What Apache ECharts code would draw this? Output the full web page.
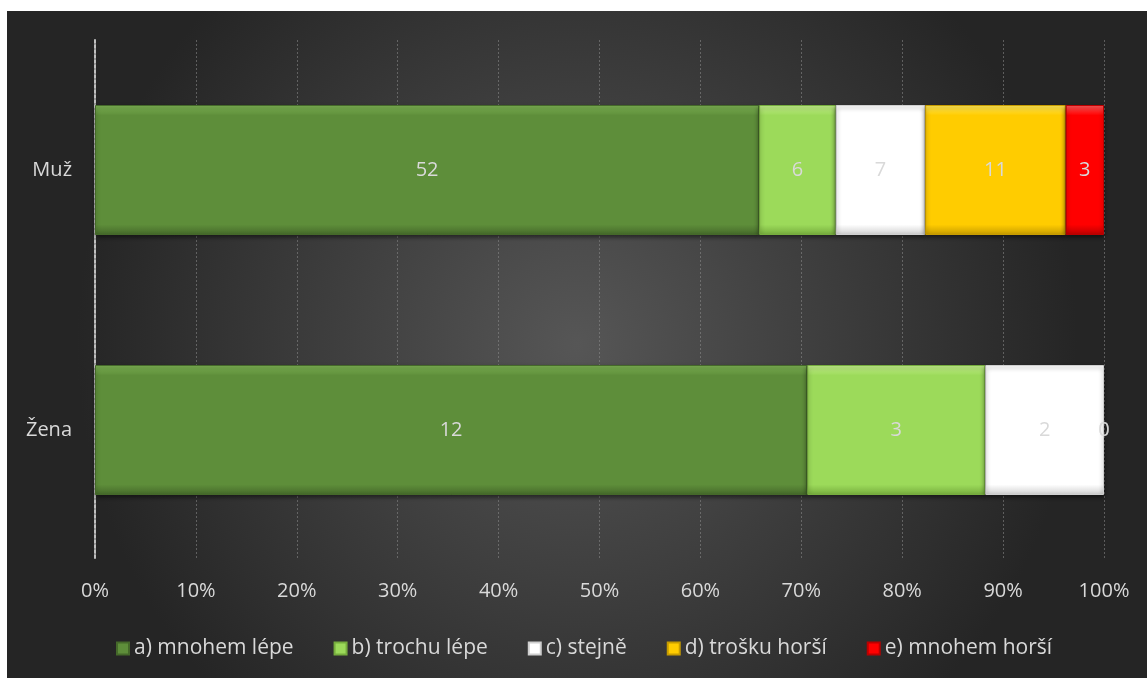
<!DOCTYPE html>
<html>
<head>
<meta charset="utf-8">
<script src="https://cdn.jsdelivr.net/npm/echarts@6/dist/echarts.min.js"></script>
<style>
  html, body { margin: 0; padding: 0; background: #ffffff; }
  #chart { position: absolute; left: 7px; top: 11px; width: 1140px; height: 667px; }
</style>
</head>
<body>
<div id="chart"></div>
<script>
// Categories (top to bottom) and answer counts per group
const categories = ['Muž', 'Žena'];
const seriesNames = ['a) mnohem lépe', 'b) trochu lépe', 'c) stejně', 'd) trošku horší', 'e) mnohem horší'];
const countsA = [52, 12];
const countsB = [6, 3];
const countsC = [7, 2];
const countsD = [11, 0];
const countsE = [3, 0];
const xTickLabels = ['0%', '10%', '20%', '30%', '40%', '50%', '60%', '70%', '80%', '90%', '100%'];

const allCounts = [countsA, countsB, countsC, countsD, countsE];
const palette = [
  { base: '#5e8e3a', light: '#7fb455', dark: '#45692a' },
  { base: '#9cda5a', light: '#c4f08c', dark: '#76ad3e' },
  { base: '#ffffff', light: '#ffffff', dark: '#cfcfcf' },
  { base: '#ffcc00', light: '#ffe75a', dark: '#c79c00' },
  { base: '#ff0000', light: '#ff5a5a', dark: '#bb0000' }
];
const FONT = 'Open Sans';
const TEXT = '#d9d9d9';

const totals = categories.map((_, i) => allCounts.reduce((s, arr) => s + arr[i], 0));
const shares = allCounts.map(arr => arr.map((v, i) => v / totals[i] * 100));

function bevel(p) {
  return new echarts.graphic.LinearGradient(0, 0, 0, 1, [
    { offset: 0, color: p.light },
    { offset: 0.08, color: p.base },
    { offset: 0.92, color: p.base },
    { offset: 1, color: p.dark }
  ]);
}

const series = seriesNames.map((name, s) => ({
  name: name,
  type: 'bar',
  stack: 'total',
  barWidth: '50%',
  data: shares[s],
  itemStyle: {
    color: bevel(palette[s]),
    borderColor: palette[s].dark,
    borderWidth: 1,
    shadowColor: 'rgba(0,0,0,0.45)',
    shadowBlur: 4,
    shadowOffsetY: 2
  },
  label: {
    show: true,
    position: 'inside',
    color: TEXT,
    fontSize: 20,
    fontFamily: FONT,
    formatter: (p) => String(allCounts[s][p.dataIndex])
  }
}));

// Zero-width segments still carry a value label at their stacked position
const zeroLabels = [];
allCounts.forEach((arr, s) => {
  arr.forEach((v, i) => {
    if (v === 0) {
      let start = 0;
      for (let k = 0; k < s; k++) start += shares[k][i];
      zeroLabels.push({ value: [start, categories[i]], count: v });
    }
  });
});
series.push({
  name: 'zero-labels',
  type: 'scatter',
  symbolSize: 0,
  silent: true,
  data: zeroLabels,
  label: {
    show: true,
    position: 'inside',
    color: TEXT,
    fontSize: 20,
    fontFamily: FONT,
    formatter: (p) => String(p.data.count)
  },
  z: 5
});

const chart = echarts.init(document.getElementById('chart'));
chart.setOption({
  backgroundColor: {
    type: 'radial', x: 0.5, y: 0.5, r: 0.75,
    colorStops: [
      { offset: 0, color: '#565656' },
      { offset: 1, color: '#252525' }
    ]
  },
  textStyle: { fontFamily: FONT },
  legend: {
    top: 622,
    left: 104,
    itemWidth: 12,
    itemHeight: 12,
    itemGap: 40,
    icon: 'rect',
    textStyle: { color: TEXT, fontSize: 21, fontFamily: FONT },
    data: seriesNames
  },
  grid: { left: 88, right: 43, top: 29, bottom: 118 },
  xAxis: {
    type: 'value',
    min: 0, max: 100, interval: 10,
    axisLine: { show: false },
    axisTick: { show: false },
    axisLabel: {
      color: TEXT, fontSize: 20, margin: 21, fontFamily: FONT,
      formatter: (v) => xTickLabels[Math.round(v / 10)]
    },
    splitLine: { show: true, lineStyle: { color: 'rgba(140,140,140,0.55)', width: 1, type: [2, 2] } }
  },
  yAxis: {
    type: 'category',
    data: categories,
    inverse: true,
    axisTick: { show: false },
    axisLine: { show: true, lineStyle: { color: '#bfbfbf', width: 2, type: [3, 2] } },
    axisLabel: { color: TEXT, fontSize: 20, margin: 23, fontFamily: FONT }
  },
  series: series
});
</script>
</body>
</html>
